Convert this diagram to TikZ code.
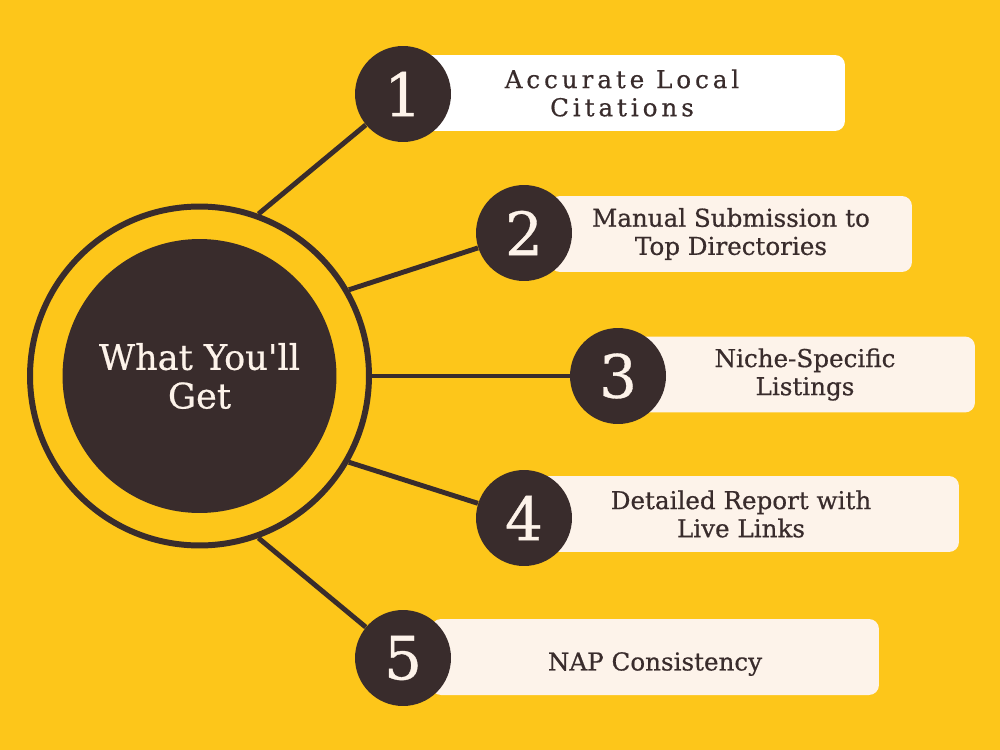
\documentclass[tikz,border=0pt]{standalone}
\usepackage{fontspec}
\usepackage{xcolor}
\usepackage{tikz}
\newfontfamily\hubfont{DejaVu Serif}[FakeBold=0.6]
\definecolor{hubyellow}{HTML}{FDC61A}
\definecolor{hubdark}{HTML}{392C2C}
\definecolor{hubcream}{HTML}{FDF3EA}

\begin{document}
\begin{tikzpicture}[x=0.02cm, y=-0.02cm,
  numdot/.style={circle, fill=hubdark, minimum size=1.92cm, inner sep=0pt, text=hubcream, font=\hubfont\fontsize{34}{34}\selectfont},
  card/.style={fill=hubcream, rounded corners=0.2cm, minimum height=1.52cm, inner sep=0pt, align=center, text=hubdark, font=\hubfont\fontsize{14}{16}\selectfont},
  spoke/.style={line width=2.8pt, hubdark},
  every node/.style={font=\hubfont}
]
\fill[hubyellow] (0,0) rectangle (1000,750);

% Hub
\node[circle, draw=hubdark, line width=3.4pt, minimum size=6.78cm] (ring) at (199.5,376) {};
\node[circle, fill=hubdark, minimum size=5.48cm, text=hubcream, align=center, font=\hubfont\fontsize{20}{22}\selectfont] (hub) at (199.5,376) {What You'll\\Get};

% Cards
\node[card, fill=white, minimum width=8.92cm, font=\hubfont\fontsize{14}{16}\selectfont\addfontfeature{LetterSpace=16}] (c1) at (622,93) {Accurate Local\\Citations};
\node[card, minimum width=7.24cm] (c2) at (731,234) {Manual Submission to\\Top Directories};
\node[card, minimum width=6.8cm] (c3) at (805,374.5) {Niche-Specific\\Listings};
\node[card, minimum width=8.72cm] (c4) at (741,514) {Detailed Report with\\Live Links};
\node[card, minimum width=8.96cm] (c5) at (655,657) {\raisebox{-4pt}[\height][\depth]{NAP Consistency}};

% Numbers
\node[numdot] (n1) at (403,94) {1};
\node[numdot] (n2) at (524,233) {2};
\node[numdot] (n3) at (618,376) {3};
\node[numdot] (n4) at (524,518) {4};
\node[numdot] (n5) at (403,658) {5};

% Spokes
\draw[spoke] (ring.70) -- (n1);
\draw[spoke] (ring.30) -- (n2);
\draw[spoke] (ring.0) -- (n3);
\draw[spoke] (ring.-30) -- (n4);
\draw[spoke] (ring.-70) -- (n5);

\end{tikzpicture}
\end{document}
